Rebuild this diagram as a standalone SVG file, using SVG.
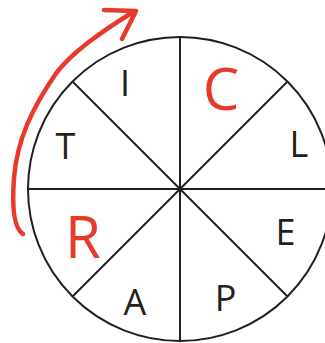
<svg xmlns="http://www.w3.org/2000/svg" width="325" height="343" viewBox="0 0 325 343">
<style>
.ln{stroke:#231f20;stroke-width:2;fill:none}
.lt{font-family:"Open Sans","Noto Sans",sans-serif;font-size:36px;fill:#231f20;text-anchor:middle}
.rd{font-family:"Open Sans","Noto Sans",sans-serif;font-size:58px;fill:#e8392b;text-anchor:middle}
.ar{stroke:#e8392b;stroke-width:4.5;fill:none;stroke-linecap:round;stroke-linejoin:round}
</style>
<rect width="325" height="343" fill="#fff"/>
<g id="wheel">
<circle class="ln" cx="180" cy="189" r="152"/>
<line class="ln" x1="180" y1="37" x2="180" y2="341"/>
<line class="ln" x1="28" y1="189" x2="325" y2="189"/>
<line class="ln" x1="72.5" y1="81.5" x2="287.5" y2="296.5"/>
<line class="ln" x1="72.5" y1="296.5" x2="287.5" y2="81.5"/>
</g>
<g id="letter-I"><text class="lt" x="125" y="96">I</text></g>
<g id="letter-C"><text class="rd" x="221" y="110">C</text></g>
<g id="letter-L"><text class="lt" x="299" y="157">L</text></g>
<g id="letter-E"><text class="lt" x="285.5" y="245">E</text></g>
<g id="letter-P"><text class="lt" x="225.5" y="311">P</text></g>
<g id="letter-A"><text class="lt" x="135" y="315">A</text></g>
<g id="letter-R"><text class="rd" x="83" y="258">R</text></g>
<g id="letter-T"><text class="lt" x="65.5" y="159">T</text></g>
<g id="connectors">
<path class="ar" d="M23 234 C13 228 12 205 14 178 C17 140 32 108 57 72 C73 52 98 34 133 12"/>
<path class="ar" d="M104 10 L136 11 L122 39"/>
</g>
</svg>
